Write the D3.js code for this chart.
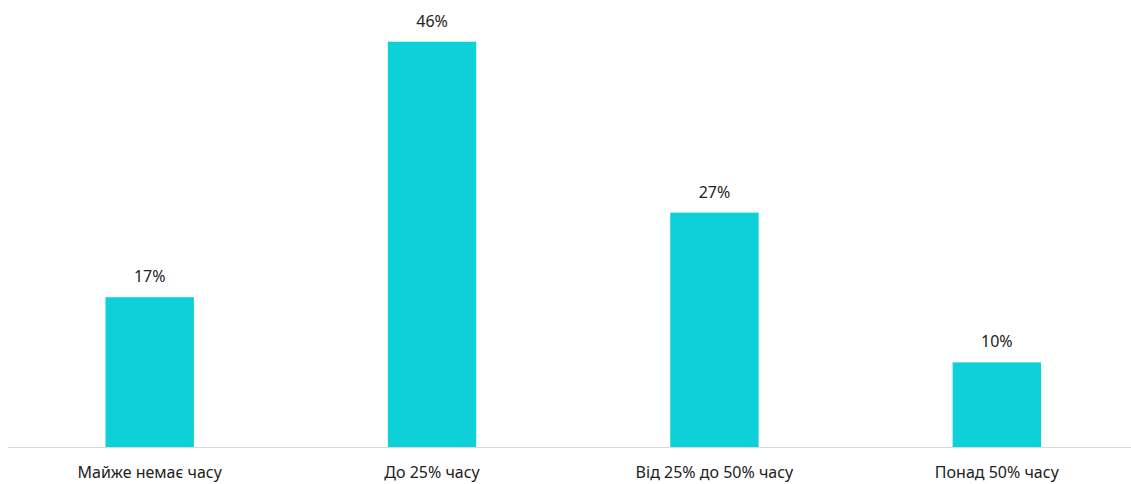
<html><head>
<script src="https://d3js.org/d3.v7.min.js"></script>
<style>
  body { margin: 0; background: #fff; }
  #chart text { font-family: "Noto Sans", sans-serif; fill: #222; }
  .cat { font-size: 16px; text-anchor: middle; }
  .val { font-size: 16px; text-anchor: middle; }
</style>
</head>
<body>
<svg id="chart" width="1131" height="484"></svg>
<script>
// data
const categories = ["Майже немає часу", "До 25% часу", "Від 25% до 50% часу", "Понад 50% часу"];
const values = [17, 46, 26.6, 9.6];

const svg = d3.select("#chart");
const baseline = 447;

const x = d3.scaleBand().domain(categories).range([8.5, 1138])
  .paddingInner(0.687).paddingOuter(0.3435);
const y = d3.scaleLinear().domain([0, 46]).range([baseline, 41.7]);

// baseline axis line
svg.append("line")
  .attr("x1", 8).attr("x2", 1131)
  .attr("y1", baseline + 0.5).attr("y2", baseline + 0.5)
  .attr("stroke", "#d9d9d9").attr("stroke-width", 1);

// bars
svg.selectAll("rect.bar").data(categories).enter().append("rect")
  .attr("class", "bar")
  .attr("x", d => x(d))
  .attr("width", x.bandwidth())
  .attr("y", (d, i) => y(values[i]))
  .attr("height", (d, i) => baseline - y(values[i]))
  .attr("fill", "#0dd0d9");

// value labels
svg.selectAll("text.val").data(categories).enter().append("text")
  .attr("class", "val")
  .attr("x", d => x(d) + x.bandwidth() / 2)
  .attr("y", (d, i) => y(values[i]) - 15)
  .text((d, i) => d3.format(".0f")(values[i]) + "%");

// category labels
svg.selectAll("text.cat").data(categories).enter().append("text")
  .attr("class", "cat")
  .attr("x", d => x(d) + x.bandwidth() / 2)
  .attr("y", 478)
  .text(d => d);
</script>
</body>
</html>
